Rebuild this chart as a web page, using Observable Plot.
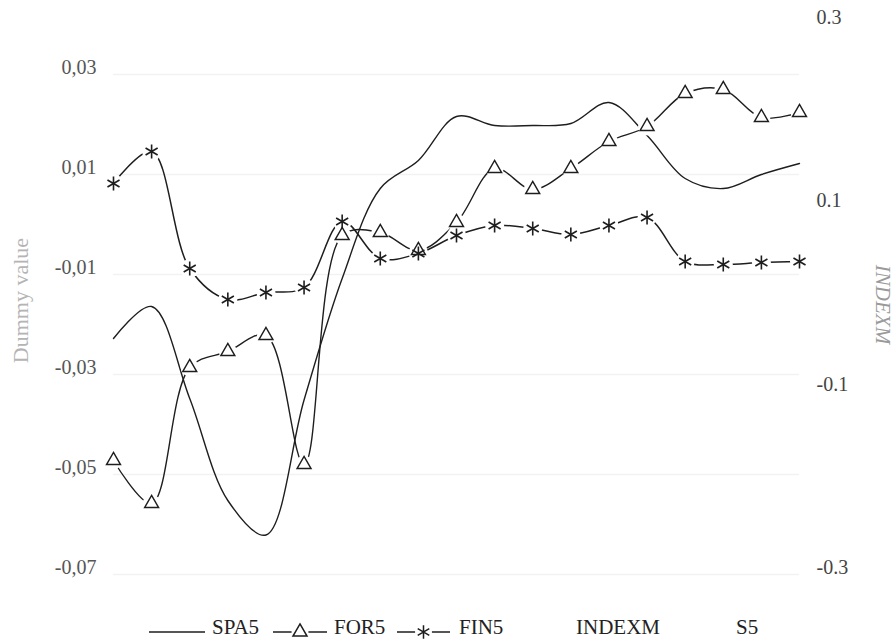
<!DOCTYPE html>
<html><head><meta charset="utf-8">
<script src="https://cdn.jsdelivr.net/npm/d3@7"></script>
<script src="https://cdn.jsdelivr.net/npm/@observablehq/plot@0.6"></script>
<style>
body{margin:0;background:#fff;}
#chart{width:894px;height:640px;position:relative;overflow:hidden;background:#fff;font-family:"Liberation Serif","Times New Roman","DejaVu Serif",serif;}
#chart svg{display:block;}
#chart svg text{font-family:"Liberation Serif","Times New Roman","DejaVu Serif",serif;}
</style></head><body><div id="chart"></div>
<script>
// ---- data ----
const periods = [1,2,3,4,5,6,7,8,9,10,11,12,13,14,15,16,17,18,19];
const spa5 = [-0.0242,-0.0178,-0.0362,-0.0566,-0.0635,-0.0365,-0.0122,0.0058,0.0114,0.0202,0.0184,0.0184,0.0188,0.0230,0.0164,0.0078,0.0058,0.0086,0.0108];
const for5 = [-0.0486,-0.0572,-0.0300,-0.0268,-0.0236,-0.0494,-0.0036,-0.0030,-0.0066,-0.0010,0.0098,0.0056,0.0098,0.0152,0.0182,0.0248,0.0256,0.0200,0.0210];
const fin5 = [0.0068,0.0132,-0.0102,-0.0164,-0.0150,-0.0140,-0.0008,-0.0082,-0.0072,-0.0036,-0.0016,-0.0022,-0.0034,-0.0016,0.0000,-0.0088,-0.0094,-0.0090,-0.0088];
const leftTicks = [-0.07,-0.05,-0.03,-0.01,0.01,0.03];
const rightTicks = [-0.3,-0.1,0.1,0.3];
const leftDomain = [-0.07, 0.04];
const rightDomain = [-0.3, 0.3];
const seriesNames = ["SPA5","FOR5","FIN5","INDEXM","S5"];
const leftLabel = "Dummy value";
const rightLabel = "INDEXM";

// ---- build ----
const serif = '"Liberation Serif","Times New Roman","DejaVu Serif",serif';
const rowsOf = (name, arr) => periods.map((p, i) => ({period: p, value: arr[i], series: name}));
const spaRows = rowsOf("SPA5", spa5);
const forRows = rowsOf("FOR5", for5);
const finRows = rowsOf("FIN5", fin5);
const toLeft = d3.scaleLinear().domain(rightDomain).range(leftDomain);
const fmtL = d => d3.format(".2f")(d).replace("\u2212", "-").replace(".", ",");
const fmtR = d => d3.format(".1f")(d).replace("\u2212", "-");
const ink = "#1e1e1e";

const plot = Plot.plot({
  width: 894, height: 610,
  marginLeft: 113, marginRight: 95, marginTop: 17, marginBottom: 43,
  x: {domain: [periods[0], periods[periods.length - 1]], axis: null},
  y: {domain: leftDomain, axis: null},
  style: {fontFamily: serif, fontSize: "20px", background: "white", color: "#3a3a3a"},
  marks: [
    Plot.ruleY(leftTicks, {stroke: "#f2f2f2", strokeWidth: 1.5, dy: 7}),
    Plot.axisY(leftTicks, {anchor: "left", tickSize: 0, tickPadding: 17, tickFormat: fmtL, label: null, fill: "#555"}),
    Plot.axisY(rightTicks.map(toLeft), {anchor: "right", tickSize: 0, tickPadding: 17, tickFormat: d => fmtR(toLeft.invert(d)), label: null, fill: "#444"}),
    Plot.text([leftLabel], {text: d => d, frameAnchor: "left", textAnchor: "middle", dx: -93, dy: 8, rotate: -90, fill: "#b4b4b4", fontSize: 22}),
    Plot.text([rightLabel], {text: d => d, frameAnchor: "right", textAnchor: "middle", dx: 83, dy: 12, rotate: 90, fill: "#9a9a9a", fontSize: 21, fontStyle: "italic"}),
    Plot.line(spaRows, {x: "period", y: "value", curve: "catmull-rom", stroke: ink, strokeWidth: 1.4}),
    Plot.line(forRows, {x: "period", y: "value", curve: "catmull-rom", stroke: ink, strokeWidth: 1.4}),
    Plot.line(finRows, {x: "period", y: "value", curve: "catmull-rom", stroke: ink, strokeWidth: 1.5}),
    Plot.dot(forRows, {x: "period", y: "value", r: 9, fill: "white", stroke: "none"}),
    Plot.dot(finRows, {x: "period", y: "value", r: 9.5, fill: "white", stroke: "none"}),
    Plot.dot(forRows, {x: "period", y: "value", symbol: "triangle", r: 5.2, fill: "white", stroke: ink, strokeWidth: 1.4}),
    Plot.dot(finRows, {x: "period", y: "value", symbol: "asterisk", r: 6.6, stroke: ink, strokeWidth: 1.6})
  ]
});
const chart = document.getElementById("chart");
chart.appendChild(plot);

// ---- legend (below the plot) ----
const legend = d3.create("svg").attr("width", 894).attr("height", 30)
  .style("font-family", serif).style("font-size", "21px");
const items = [
  {name: seriesNames[0], x0: 149, x1: 205, tx: 212, marker: null},
  {name: seriesNames[1], x0: 273, x1: 327, tx: 334, marker: d3.symbolTriangle},
  {name: seriesNames[2], x0: 397, x1: 450, tx: 459, marker: d3.symbolAsterisk},
  {name: seriesNames[3], x0: null, x1: null, tx: 576, marker: null},
  {name: seriesNames[4], x0: null, x1: null, tx: 736, marker: null}
];
const ly = 22;
items.forEach(it => {
  if (it.x0 !== null) {
    legend.append("line").attr("x1", it.x0).attr("x2", it.x1).attr("y1", ly).attr("y2", ly)
      .attr("stroke", ink).attr("stroke-width", 1.5);
  }
  if (it.marker) {
    const cx = (it.x0 + it.x1) / 2;
    const big = it.marker === d3.symbolAsterisk ? 40 : 27;
    legend.append("circle").attr("cx", cx).attr("cy", ly).attr("r", 8.5).attr("fill", "white");
    legend.append("path").attr("d", d3.symbol(it.marker, Math.PI * big)())
      .attr("transform", `translate(${cx},${ly})`)
      .attr("fill", it.marker === d3.symbolTriangle ? "white" : "none")
      .attr("stroke", ink).attr("stroke-width", 1.5);
  }
  legend.append("text").attr("x", it.tx).attr("y", 23.5).attr("fill", "#222").text(it.name);
});
chart.appendChild(legend.node());
</script>
</body></html>
